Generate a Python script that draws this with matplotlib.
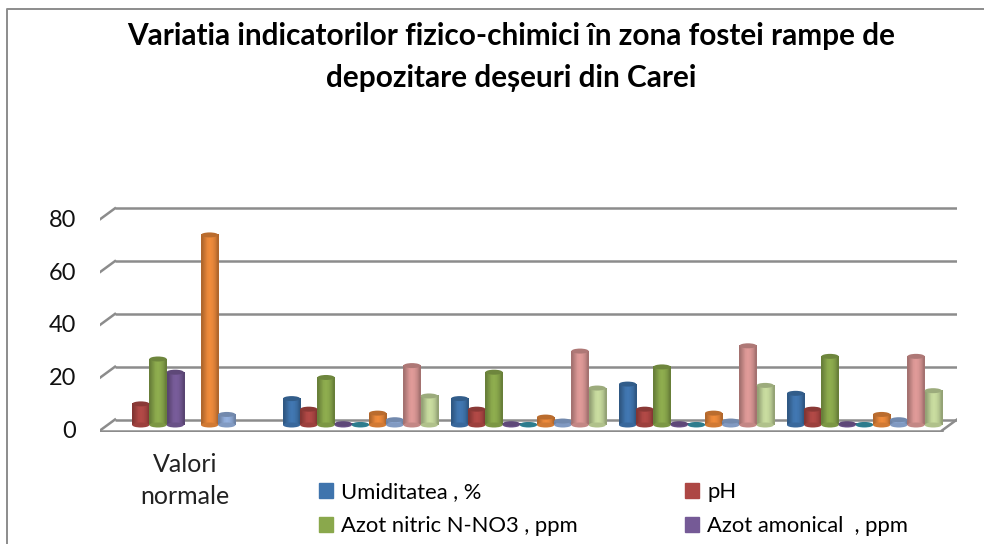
import numpy as np
import matplotlib
matplotlib.use("Agg")
from matplotlib import pyplot as plt
from matplotlib.patches import Ellipse, Patch
from matplotlib.colors import to_rgb

categories = ["Valori\nnormale", "", "", "", ""]
series_names = ["Umiditatea , %", "Azot nitric N-NO3 , ppm", "pH", "Azot amonical  , ppm"]
yticks = [0, 20, 40, 60, 80]

umiditate = [0, 10, 10, 15.5, 12]
ph = [8, 6, 6, 6, 6]
azot_nitric = [25, 18, 20, 22, 26]
azot_amonical = [20, 0.5, 0.5, 0.5, 0.5]
serie5 = [0, 0.2, 0.2, 0.2, 0.2]
serie6 = [72, 4.5, 3, 4.5, 4]
serie7 = [4, 2, 1.5, 1.5, 2]
serie8 = [0, 22.5, 28, 30, 26]
serie9 = [0, 11, 14, 15, 13]

series = [umiditate, ph, azot_nitric, azot_amonical, serie5, serie6, serie7, serie8, serie9]
colors = ["#3f74ad", "#ad4744", "#8aa84c", "#755a96", "#3a9bb0", "#e8873a", "#8fabd8", "#d99694", "#c3d69b"]
legend_colors = [colors[0], colors[2], colors[1], colors[3]]

W, H = 984, 544
plt.rcParams["font.family"] = ["Lato", "DejaVu Sans"]
fig = plt.figure(figsize=(W / 100, H / 100), dpi=100)

# axes in pixels: 100..957 across, 204..432 down
ax = fig.add_axes([100 / W, 1 - 432 / H, 857 / W, 228 / H])
px_x = 168.0   # pixels per category
px_y = 2.64    # pixels per unit
x0, x1 = (100 - 191.5) / px_x, (957 - 191.5) / px_x
ax.axis("off")

# back wall and floor: front edge 5.5px under the value, back edge 5.5px over it
front = -5.5 / px_y
rear = 5.5 / px_y
depth = 15 / px_x
grid = "#8c8c8c"
for v in yticks:
    ax.plot([x0 + depth, x1], [v + rear, v + rear], color=grid, lw=1.8, zorder=1, solid_capstyle="butt")
    ax.plot([x0, x0 + depth], [v + front, v + rear], color=grid, lw=1.8, zorder=1)
ax.plot([x0, x1 - depth], [front, front], color=grid, lw=1.8, zorder=1)
ax.plot([x1 - depth, x1], [front, rear], color=grid, lw=1.8, zorder=1)

bar_w = 17.2 / px_x
grad = np.array([0.76, 0.88, 1.0, 1.04, 1.0, 0.92, 0.76])
cap_h = 5 / px_y
z = 3
for s, (vals, col) in enumerate(zip(series, colors)):
    rgb = np.array(to_rgb(col))
    img = np.clip(grad[:, None] * rgb[None, :], 0, 1)[None, :, :]
    for i, v in enumerate(vals):
        if v <= 0:
            continue
        left = i - 76.5 / px_x + s * bar_w
        ax.imshow(img, extent=(left, left + bar_w, 0, v), aspect="auto", interpolation="bilinear", zorder=z)
        ax.add_patch(Ellipse((left + bar_w / 2, 0), bar_w, cap_h, color=rgb * 0.9, zorder=z, lw=0))
        ax.add_patch(Ellipse((left + bar_w / 2, v), bar_w, cap_h, color=rgb * 0.8, zorder=z + 0.1, lw=0))
ax.set_xlim(x0, x1)
ax.set_ylim(-7 / px_y, 221 / px_y)

for v in yticks:
    ax.annotate(str(v), xy=(x0, v), xytext=(-17, -4.7), textcoords="offset points", ha="right", va="center",
                fontsize=17, color="#111111")
ax.annotate(categories[0], xy=(0, 0), xytext=(-4.7, -20), textcoords="offset points", ha="center", va="top",
            fontsize=18, color="#222222", linespacing=1.5)

fig.text(511.5 / W, 1 - 57 / H, "Variatia indicatorilor fizico-chimici în zona fostei rampe de\ndepozitare deșeuri din Carei",
         ha="center", va="center", fontsize=21.4, fontweight="bold", color="black", linespacing=1.65)

handles = [Patch(color=c) for c in legend_colors]
fig.legend(handles, series_names, ncol=2, loc="lower left", bbox_to_anchor=(319 / W, 8 / H), frameon=False,
           fontsize=15.8, columnspacing=4.9, handlelength=0.65, handleheight=0.65, handletextpad=0.35,
           labelspacing=0.62, borderpad=0, borderaxespad=0)

# chart frame, only top and left are inside the crop
fig.add_artist(plt.Line2D([7 / W, 7 / W, 1], [0, 1 - 8.5 / H, 1 - 8.5 / H], color="#8c8c8c", lw=1.4))
fig.savefig("out.png", dpi=100)
